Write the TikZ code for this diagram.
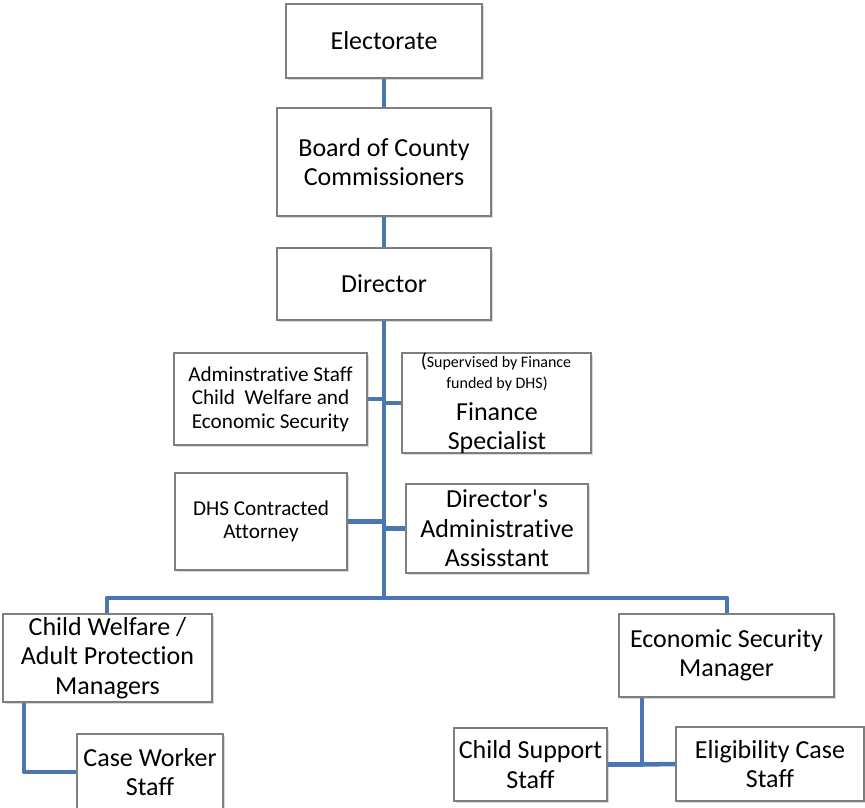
\documentclass[tikz,border=0pt]{standalone}
\usepackage{fontspec}
\setmainfont{Carlito}[Ligatures={TeXOff,CommonOff}]
\usetikzlibrary{shadows,backgrounds}
\definecolor{conn}{HTML}{4A76B1}
\definecolor{bord}{HTML}{7F7F7F}
\tikzset{
  box/.style={draw=bord, line width=1.1pt, fill=white, inner sep=0pt, align=center,
    drop shadow={shadow xshift=2pt, shadow yshift=-2pt, opacity=0.3, fill=gray}},
  big/.style={font=\fontsize{26}{29.5}\selectfont},
  mid/.style={font=\fontsize{21.2}{23.5}\selectfont},
  tiny/.style={font=\fontsize{16}{21}\selectfont, inner sep=0pt},
  link/.style={draw=conn, line width=4.5pt, line join=round},
}
\newcommand{\bx}[7]{% name, x1, y1, x2, y2, style, text
  \node[box,#6, minimum width=#4-#2, minimum height=#5-#3] (#1) at ({(#2+#4)/2},{(#3+#5)/2}) {#7};}
\begin{document}
\begin{tikzpicture}[x=1pt,y=-1pt]
\useasboundingbox (0,0) rectangle (865,808);
\coordinate (barL) at (107,598);
\coordinate (barR) at (727,598);
\coordinate (t1) at (24,0);
\coordinate (t2) at (642,0);

\bx{elec}{286}{4}{482}{78}{big}{Electorate}
\bx{board}{277}{108}{491}{216}{big}{Board of County\\Commissioners}
\bx{dir}{277}{248}{491}{320}{big}{Director}
\bx{admin}{174}{353}{367}{445}{mid}{Adminstrative Staff\\Child\ \ Welfare and\\Economic Security}
\bx{fin}{402}{353}{591}{453}{}{}
\node[tiny, anchor=base] (fin1) at (496,367) {{\fontsize{20}{21}\selectfont(}Supervised by Finance};
\node[tiny, anchor=base] (fin2) at (497,388) {funded by DHS)};
\node[big, anchor=base, inner sep=0pt] (fin3) at (497,420) {Finance};
\node[big, anchor=base, inner sep=0pt] (fin4) at (497,449) {Specialist};
\bx{att}{175}{473}{347}{570}{mid}{DHS Contracted\\Attorney}
\bx{daa}{406}{484}{588}{573}{big}{Director's\\Administrative\\Assisstant}
\bx{cw}{3}{614}{212}{702}{big}{Child Welfare /\\Adult Protection\\Managers}
\bx{case}{77}{734}{223}{810}{big}{Case Worker\\Staff}
\bx{esm}{619}{614}{834}{697}{big}{Economic Security\\Manager}
\bx{cs}{454}{728}{607}{801}{big}{Child Support\\Staff}
\bx{elig}{676}{727}{864}{801}{big}{Eligibility Case\\Staff}

\begin{scope}[on background layer]
\draw[link] (elec.south) -- (board.north);
\draw[link] (board.south) -- (dir.north);
\draw[link] (dir.south) -- (dir.south |- barL);
\draw[link] (admin.east) -- (admin.east -| dir.south);
\draw[link] (fin.west) -- (fin.west -| dir.south);
\draw[link] (att.east) -- (att.east -| dir.south);
\draw[link] (daa.west) -- (daa.west -| dir.south);
\draw[link] (cw.north -| barL) -- (barL) -- (barR) -- (esm.north -| barR);
\draw[link] (cw.south -| t1) |- (case.west);
\draw[link] (esm.south -| t2) |- (cs.east);
\draw[link] (t2 |- cs.east) -- (elig.west);
\end{scope}
\end{tikzpicture}
\end{document}
